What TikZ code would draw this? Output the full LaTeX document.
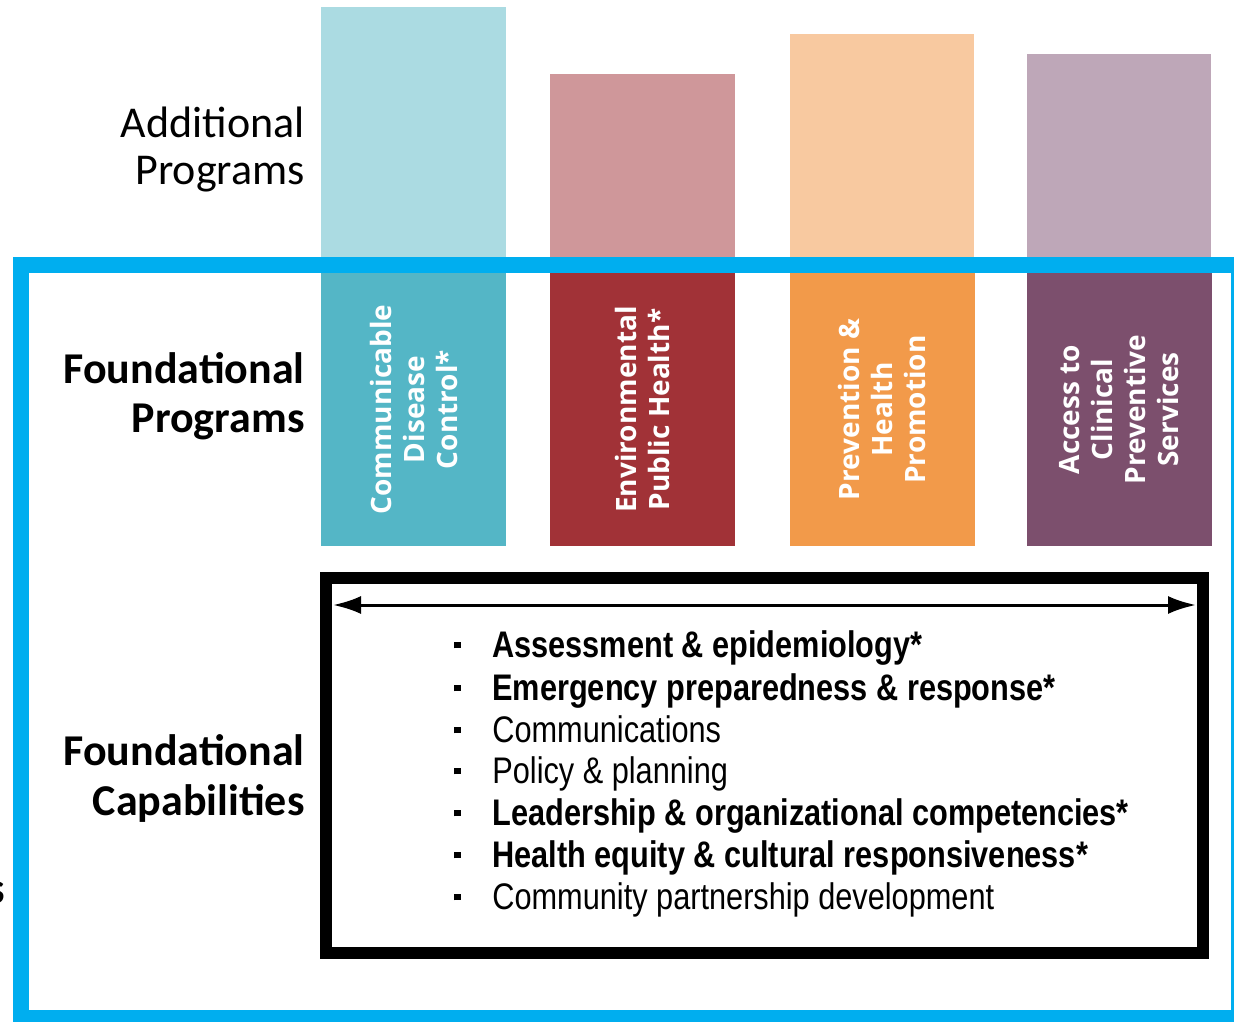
\documentclass[tikz,border=0pt]{standalone}
\usepackage{fontspec}
\setmainfont{Carlito}
\newfontfamily\barfont{Open Sans}
\newfontfamily\listfont[FakeStretch=0.83]{Liberation Sans}
\usetikzlibrary{positioning,arrows.meta}

\definecolor{cdcLight}{HTML}{ABDBE2}
\definecolor{cdcDark}{HTML}{54B6C6}
\definecolor{ephLight}{HTML}{CF979A}
\definecolor{ephDark}{HTML}{A13237}
\definecolor{phpLight}{HTML}{F8C9A0}
\definecolor{phpDark}{HTML}{F29A4A}
\definecolor{acpsLight}{HTML}{BEA7B8}
\definecolor{acpsDark}{HTML}{7C4F6D}
\definecolor{frameBlue}{HTML}{00AEEF}

\newcommand{\capbullet}{\raisebox{4.3pt}{\rule{3.4pt}{3.4pt}}\hspace{15.6pt}}

\begin{document}
\begin{tikzpicture}[x=0.5pt,y=-0.5pt,
										progbar/.style={rotate=90,inner sep=0pt,minimum width=136.5pt,minimum height=92.5pt,align=center,text=white,font=\barfont\bfseries\fontsize{14}{16.5}\selectfont},
										sidelabel/.style={anchor=base east,inner sep=0pt,align=right},
										capitem/.style={anchor=base west,inner sep=0pt,font=\listfont\fontsize{18.5}{21}\selectfont}
										]
	\useasboundingbox (0,0) rectangle (1234,1021);
	\clip (0,0) rectangle (1234,1021);

	% additional programs
	\fill[cdcLight] (321,7) rectangle (506,273);
	\fill[ephLight] (550,74) rectangle (735,273);
	\fill[phpLight] (790,34) rectangle (974,273);
	\fill[acpsLight] (1027,54) rectangle (1211,273);

	% foundational programs
	\node[progbar,fill=cdcDark] (cdc) at (413.5,409.5) {Communicable\\Disease\\Control*};
	\node[progbar,fill=ephDark] (eph) at (642.5,409.5) {Environmental\\Public Health*};
	\node[progbar,fill=phpDark] (php) at (882,409.5) {Prevention \&\\Health\\Promotion};
	\node[progbar,fill=acpsDark] (acps) at (1119,409.5) {Access to\\Clinical\\Preventive\\Services};

	\draw[frameBlue,line width=8pt] (21,265) rectangle (1239,1018);

	% base east is the last line here
	\node[sidelabel,font=\fontsize{22}{23.5}\selectfont] (addl) at (305,185) {Additional\\Programs};
	\node[sidelabel,font=\bfseries\fontsize{22}{24.5}\selectfont] (fprog) at (305,432) {Foundational\\Programs};
	\node[sidelabel,font=\bfseries\fontsize{22}{25}\selectfont] (fcap) at (305,815) {Foundational\\Capabilities};
	\node[sidelabel,font=\bfseries\fontsize{22}{25}\selectfont] (cut) at (5,903) {s};

	% capabilities box
	\node[draw,line width=6pt,inner sep=0pt,minimum width=438.5pt,minimum height=187.5pt] (capbox) at (764.5,765.5) {};
	\coordinate (arrL) at (333,605);
	\coordinate (arrR) at (1196,605);
	\draw[line width=1.5pt,{Latex[length=14pt,width=9pt]}-{Latex[length=14pt,width=9pt]}] (arrL) -- (arrR);

	\node[capitem] (c1) at (454,657) {\capbullet\bfseries Assessment \& epidemiology*};
	\node[capitem] (c2) at (454,700) {\capbullet\bfseries Emergency preparedness \& response*};
	\node[capitem] (c3) at (454,742) {\capbullet Communications};
	\node[capitem] (c4) at (454,783) {\capbullet Policy \& planning};
	\node[capitem] (c5) at (454,825) {\capbullet\bfseries Leadership \& organizational competencies*};
	\node[capitem] (c6) at (454,867) {\capbullet\bfseries Health equity \& cultural responsiveness*};
	\node[capitem] (c7) at (454,909) {\capbullet Community partnership development};
\end{tikzpicture}
\end{document}
